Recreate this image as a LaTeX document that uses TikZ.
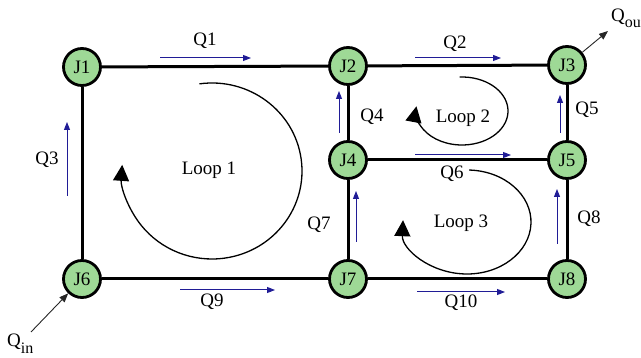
\documentclass[tikz,border=0pt]{standalone}
\usepackage{fontspec}
\setmainfont{Liberation Serif}
\usetikzlibrary{arrows.meta}

\definecolor{jfill}{RGB}{158,217,150}
\definecolor{flowblue}{RGB}{32,28,150}

\begin{document}
\begin{tikzpicture}[x=1pt,y=-1pt,
  junction/.style={circle, draw=black, line width=2.8pt, fill=jfill,
    minimum size=37pt, inner sep=0pt, font=\fontsize{19}{19}\selectfont},
  pipe/.style={line width=3pt},
  flow/.style={draw=flowblue, line width=1pt, -{Triangle[length=8pt,width=6pt]}},
  loopcurve/.style={line width=1.3pt, -{Triangle[length=16pt,width=16pt]}},
  lbl/.style={font=\fontsize{19}{19}\selectfont, inner sep=0pt},
  ext/.style={draw=black!85, line width=0.9pt, -{Triangle[length=9pt,width=7pt]}}
]
\useasboundingbox (0,0) rectangle (641,358);

% junctions
\node[junction] (J1) at (82,67)  {J1};
\node[junction] (J2) at (348,66) {J2};
\node[junction] (J3) at (567,65) {J3};
\node[junction] (J4) at (348,160) {J4};
\node[junction] (J5) at (567,160) {J5};
\node[junction] (J6) at (82,279) {J6};
\node[junction] (J7) at (348,279) {J7};
\node[junction] (J8) at (567,279) {J8};

% pipes
\draw[pipe] (J1) -- (J2);
\draw[pipe] (J2) -- (J3);
\draw[pipe] (J1) -- (J6);
\draw[pipe] (J2) -- (J4);
\draw[pipe] (J3) -- (J5);
\draw[pipe] (J4) -- (J5);
\draw[pipe] (J4) -- (J7);
\draw[pipe] (J5) -- (J8);
\draw[pipe] (J6) -- (J7);
\draw[pipe] (J7) -- (J8);

% flow directions
\coordinate (f1a) at (160,58);  \coordinate (f1b) at (251,58);
\coordinate (f2a) at (415,58);  \coordinate (f2b) at (501,58);
\coordinate (f3a) at (67,196);  \coordinate (f3b) at (67,122);
\coordinate (f4a) at (339,133); \coordinate (f4b) at (339,91);
\coordinate (f5a) at (560,133); \coordinate (f5b) at (560,95);
\coordinate (f6a) at (415,155); \coordinate (f6b) at (511,155);
\coordinate (f7a) at (356,242); \coordinate (f7b) at (356,191);
\coordinate (f8a) at (557,244); \coordinate (f8b) at (557,189);
\coordinate (f9a) at (180,290); \coordinate (f9b) at (275,290);
\coordinate (f10a) at (417,292); \coordinate (f10b) at (505,292);
\foreach \i in {1,...,10} \draw[flow] (f\i a) -- (f\i b);

% flow labels
\node[lbl] (Q1) at (205,41) {Q1};
\node[lbl] (Q2) at (455,44) {Q2};
\node[lbl] (Q3) at (47,160) {Q3};
\node[lbl] (Q4) at (372,117) {Q4};
\node[lbl] (Q5) at (587,110) {Q5};
\node[lbl] (Q6) at (452,174) {Q6};
\node[lbl] (Q7) at (319,225) {Q7};
\node[lbl] (Q8) at (589,219) {Q8};
\node[lbl] (Q9) at (212,302) {Q9};
\node[lbl] (Q10) at (461,303) {Q10};

% loop circulation
\draw[loopcurve] (212,171) ++(-98:90 and 88)
  arc[start angle=-98, end angle=184, x radius=90, y radius=88];
\draw[loopcurve] (462,111) ++(-93:46 and 34)
  arc[start angle=-93, end angle=188, x radius=46, y radius=34];
\draw[loopcurve] (467,222) ++(-88:64 and 52)
  arc[start angle=-88, end angle=182, x radius=64, y radius=52];
\node[lbl] (L1) at (209,170) {Loop 1};
\node[lbl] (L2) at (463,118) {Loop 2};
\node[lbl] (L3) at (461,223) {Loop 3};

% inflow and outflow
\coordinate (qo) at (608,31);
\draw[ext] (J3) -- (qo);
\node[lbl, anchor=base west] (Qout) at (611,22)
  {Q\raisebox{-6pt}{\fontsize{16}{16}\selectfont out}};
\coordinate (qi) at (31,332);
\draw[ext] (qi) -- (J6);
\node[lbl, anchor=base west] (Qin) at (7,347)
  {Q\raisebox{-7pt}{\fontsize{16}{16}\selectfont in}};
\end{tikzpicture}
\end{document}
